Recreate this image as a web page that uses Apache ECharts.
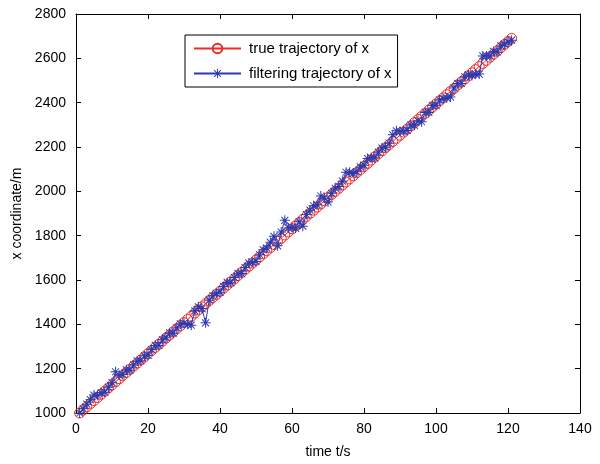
<!DOCTYPE html>
<html>
<head>
<meta charset="utf-8">
<script src="https://cdn.jsdelivr.net/npm/echarts@6/dist/echarts.min.js"></script>
<style>html,body{margin:0;padding:0;background:#fff;}#c{width:600px;height:464px;}</style>
</head>
<body>
<div id="c"></div>
<script>
const trueX = [1000,1014,1028,1042,1056,1070,1084,1099,1113,1127,1141,1155,1169,1183,1197,1211,1225,1239,1253,1268,
1282,1296,1310,1324,1338,1352,1366,1380,1394,1408,1422,1436,1451,1465,1479,1493,1507,1521,1535,1549,
1563,1577,1591,1605,1620,1634,1648,1662,1676,1690,1704,1718,1732,1746,1760,1774,1788,1803,1817,1831,
1845,1859,1873,1887,1901,1915,1929,1943,1957,1972,1986,2000,2014,2028,2042,2056,2070,2084,2098,2112,
2126,2141,2155,2169,2183,2197,2211,2225,2239,2253,2267,2281,2295,2310,2324,2338,2352,2366,2380,2394,
2408,2422,2436,2450,2464,2479,2493,2507,2521,2535,2549,2563,2577,2591,2605,2619,2633,2648,2662,2676,2690];
const filteredX = [1000,1019,1040,1060,1081,1080,1092,1094,1116,1137,1186,1170,1174,1195,1193,1217,1235,1236,1258,1260,
1286,1305,1305,1330,1340,1362,1360,1384,1402,1405,1400,1396,1461,1479,1471,1407,1509,1529,1540,1545,
1571,1589,1588,1611,1630,1629,1656,1676,1680,1684,1714,1736,1744,1770,1797,1754,1816,1869,1835,1837,
1833,1863,1843,1895,1915,1935,1939,1979,1969,1952,1991,2014,2022,2046,2086,2086,2080,2088,2110,2118,
2148,2151,2151,2177,2195,2199,2217,2255,2273,2270,2273,2275,2299,2298,2318,2314,2356,2356,2388,2388,
2412,2418,2422,2426,2466,2487,2487,2517,2525,2523,2529,2529,2611,2611,2611,2631,2629,2656,2664,2674,2682];
const times = trueX.map((_, i) => i + 1);
const xTicks = [0, 20, 40, 60, 80, 100, 120, 140];
const yTicks = [1000, 1200, 1400, 1600, 1800, 2000, 2200, 2400, 2600, 2800];
const seriesNames = ['true trajectory of x', 'filtering trajectory of x'];

const RED = '#ee2b25';
const BLUE = '#2a3ab0';
const FONT = 'Liberation Sans, Arial, Helvetica, sans-serif';
const star = 'path://M9,0L11,0L11,20L9,20Z M0,9L20,9L20,11L0,11Z M2.3,3.7L3.7,2.3L17.7,16.3L16.3,17.7Z M16.3,2.3L17.7,3.7L3.7,17.7L2.3,16.3Z';

const axisCommon = {
  type: 'value',
  axisLine: { show: true, onZero: false, lineStyle: { color: '#000', width: 1 } },
  axisTick: { show: true, inside: true, length: 5, lineStyle: { color: '#000', width: 1 } },
  splitLine: { show: false }
};
const plain = v => String(v);

const chart = echarts.init(document.getElementById('c'), null, { renderer: 'canvas' });
chart.setOption({
  animation: false,
  backgroundColor: '#fff',
  grid: { left: 76, right: 20, top: 14, bottom: 48 },
  legend: {
    orient: 'vertical',
    left: 185, top: 35,
    padding: [6, 6, 6, 8],
    itemGap: 10,
    itemWidth: 47, itemHeight: 12,
    borderColor: '#000', borderWidth: 1,
    backgroundColor: '#fff',
    textStyle: { fontFamily: FONT, fontSize: 15, color: '#000', padding: [0, 0, 0, 3] },
    data: seriesNames
  },
  xAxis: [
    Object.assign({}, axisCommon, {
      min: xTicks[0], max: xTicks[xTicks.length - 1], interval: 20,
      name: 'time t/s', nameLocation: 'middle', nameGap: 32,
      nameTextStyle: { fontFamily: FONT, fontSize: 14, color: '#000' },
      axisLabel: { fontFamily: FONT, fontSize: 14, color: '#000', margin: 9, formatter: plain }
    }),
    Object.assign({}, axisCommon, {
      position: 'top', min: xTicks[0], max: xTicks[xTicks.length - 1], interval: 20,
      axisLabel: { show: false }
    })
  ],
  yAxis: [
    Object.assign({}, axisCommon, {
      min: yTicks[0], max: yTicks[yTicks.length - 1], interval: 200,
      name: 'x coordinate/m', nameLocation: 'middle', nameGap: 51,
      nameTextStyle: { fontFamily: FONT, fontSize: 14, color: '#000' },
      axisLabel: { fontFamily: FONT, fontSize: 14, color: '#000', margin: 10, formatter: plain }
    }),
    Object.assign({}, axisCommon, {
      position: 'right', min: yTicks[0], max: yTicks[yTicks.length - 1], interval: 200,
      axisLabel: { show: false }
    })
  ],
  series: [
    {
      name: seriesNames[0], type: 'line',
      data: times.map((t, i) => [t, trueX[i]]),
      symbol: 'circle', symbolSize: 10, showAllSymbol: true,
      lineStyle: { color: RED, width: 1 },
      itemStyle: { color: 'none', borderColor: RED, borderWidth: 1 },
      z: 2
    },
    {
      name: seriesNames[1], type: 'line',
      data: times.map((t, i) => [t, filteredX[i]]),
      symbol: star, symbolSize: 10, showAllSymbol: true,
      lineStyle: { color: BLUE, width: 1 },
      itemStyle: { color: BLUE, borderWidth: 0 },
      z: 3
    }
  ]
});
</script>
</body>
</html>
